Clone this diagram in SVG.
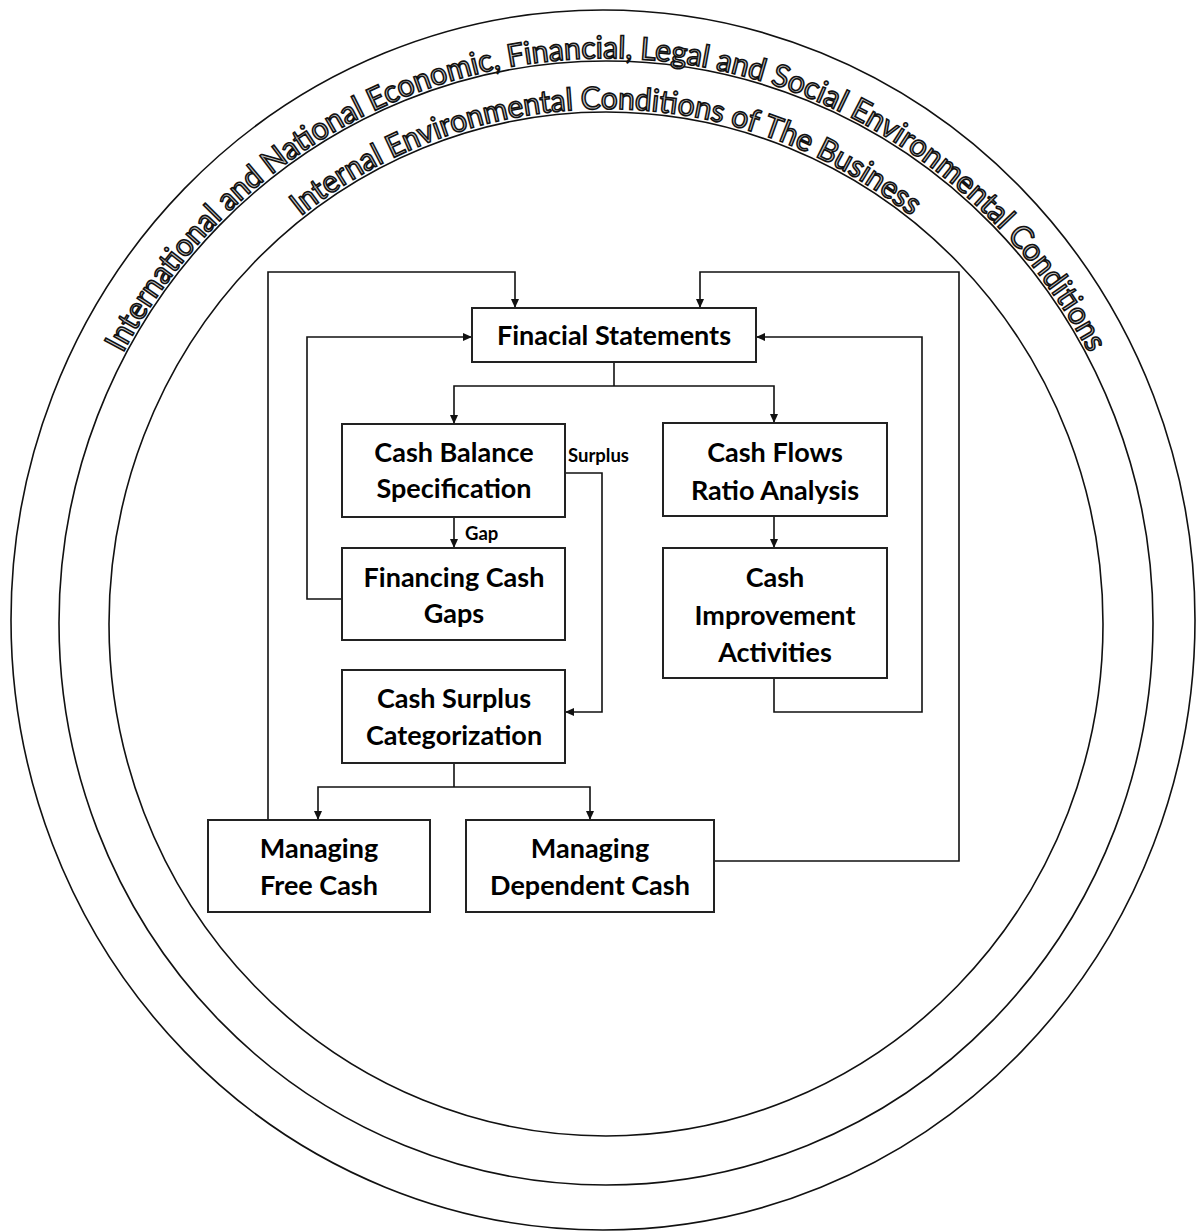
<svg xmlns="http://www.w3.org/2000/svg" width="1203" height="1231" viewBox="0 0 1203 1231">
  <style>
    .ring { fill: none; stroke: #111; stroke-width: 1.6; }
    .arc-text { font-family: Lato, "Open Sans", "Liberation Sans", sans-serif; font-size: 31px; fill: #c8c8c8; stroke: #111; stroke-width: 1.6; }
    .box { fill: #fff; stroke: #222; stroke-width: 2; }
    .label { font-family: Lato, "Open Sans", "Liberation Sans", sans-serif; font-weight: bold; font-size: 27px; fill: #000; text-anchor: middle; }
    .small { font-family: Lato, "Open Sans", "Liberation Sans", sans-serif; font-weight: bold; font-size: 18.5px; fill: #000; }
    .conn { fill: none; stroke: #111; stroke-width: 1.6; }
    .arr { marker-end: url(#ah); }
  </style>
  <defs>
    <marker id="ah" markerWidth="9" markerHeight="8" refX="9" refY="4" orient="auto" markerUnits="userSpaceOnUse">
      <path d="M0,0 L9,4 L0,8 z" fill="#111"/>
    </marker>
    <path id="outerPath" d="M56,623 A550,565 0 0 1 1156,623"/>
    <path id="innerPath" d="M106,624 A500,515 0 0 1 1106,624"/>
  </defs>
  <rect width="1203" height="1231" fill="#fff"/>

  <g id="environment">
    <ellipse class="ring" cx="603" cy="620" rx="592" ry="610"/>
    <ellipse class="ring" cx="606" cy="623" rx="547" ry="562"/>
    <ellipse class="ring" cx="606" cy="624" rx="497" ry="512"/>
    <text class="arc-text"><textPath href="#outerPath" startOffset="50%" text-anchor="middle" textLength="1190" lengthAdjust="spacingAndGlyphs">International and National Economic, Financial, Legal and Social Environmental Conditions</textPath></text>
    <text class="arc-text"><textPath href="#innerPath" startOffset="50%" text-anchor="middle" textLength="660" lengthAdjust="spacingAndGlyphs">Internal Environmental Conditions of The Business</textPath></text>
  </g>

  <g id="connectors">
    <path class="conn" d="M614,362 V386"/>
    <path class="conn arr" d="M614,386 H454 V424"/>
    <path class="conn arr" d="M614,386 H774 V423"/>
    <path class="conn arr" d="M454,517 V548"/>
    <path class="conn arr" d="M565,473 H602 V712 H565"/>
    <path class="conn arr" d="M342,599 H307 V337 H472"/>
    <path class="conn arr" d="M774,516 V548"/>
    <path class="conn arr" d="M774,678 V712 H922 V337 H756"/>
    <path class="conn" d="M454,763 V787"/>
    <path class="conn arr" d="M454,787 H318 V820"/>
    <path class="conn arr" d="M454,787 H590 V820"/>
    <path class="conn arr" d="M268,822 V272 H515 V308"/>
    <path class="conn arr" d="M714,861 H959 V272 H700 V308"/>
    <text class="small" x="465" y="540">Gap</text>
    <text class="small" x="568" y="462">Surplus</text>
  </g>

  <g id="financial-statements">
    <rect class="box" x="472" y="308" width="284" height="54"/>
    <text class="label" x="614" y="345">Finacial Statements</text>
  </g>
  <g id="cash-balance-specification">
    <rect class="box" x="342" y="424" width="223" height="93"/>
    <text class="label" x="454" y="462">Cash Balance</text>
    <text class="label" x="454" y="498">Specification</text>
  </g>
  <g id="financing-cash-gaps">
    <rect class="box" x="342" y="548" width="223" height="92"/>
    <text class="label" x="454" y="587">Financing Cash</text>
    <text class="label" x="454" y="623">Gaps</text>
  </g>
  <g id="cash-surplus-categorization">
    <rect class="box" x="342" y="670" width="223" height="93"/>
    <text class="label" x="454" y="708">Cash Surplus</text>
    <text class="label" x="454" y="745">Categorization</text>
  </g>
  <g id="cash-flows-ratio-analysis">
    <rect class="box" x="663" y="423" width="224" height="93"/>
    <text class="label" x="775" y="462">Cash Flows</text>
    <text class="label" x="775" y="500">Ratio Analysis</text>
  </g>
  <g id="cash-improvement-activities">
    <rect class="box" x="663" y="548" width="224" height="130"/>
    <text class="label" x="775" y="587">Cash</text>
    <text class="label" x="775" y="625">Improvement</text>
    <text class="label" x="775" y="662">Activities</text>
  </g>
  <g id="managing-free-cash">
    <rect class="box" x="208" y="820" width="222" height="92"/>
    <text class="label" x="319" y="858">Managing</text>
    <text class="label" x="319" y="895">Free Cash</text>
  </g>
  <g id="managing-dependent-cash">
    <rect class="box" x="466" y="820" width="248" height="92"/>
    <text class="label" x="590" y="858">Managing</text>
    <text class="label" x="590" y="895">Dependent Cash</text>
  </g>
</svg>
